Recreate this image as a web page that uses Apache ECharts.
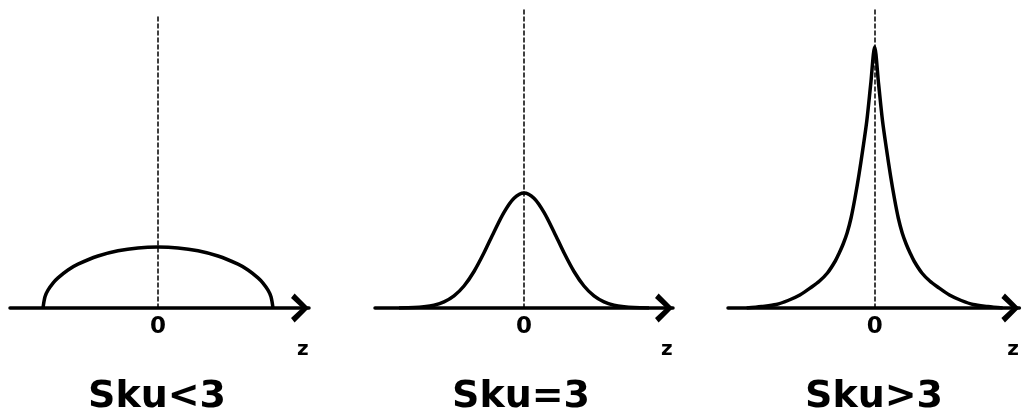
<!DOCTYPE html>
<html>
<head>
<meta charset="utf-8">
<script src="https://cdn.jsdelivr.net/npm/echarts@6/dist/echarts.min.js"></script>
<style>
  html, body { margin: 0; padding: 0; background: #fff; }
  #chart { width: 1022px; height: 416px; }
</style>
</head>
<body>
<div id="chart"></div>
<script>
// panel labels
const panelTitles = ['Sku<3', 'Sku=3', 'Sku>3'];

// platykurtic (flat, elliptic hump)
const zFlat = [-115, -113, -110, -105, -100, -90, -80, -60, -40, -20, 0, 20, 40, 60, 80, 90, 100, 105, 110, 113, 115];
const hFlat = [0, 11.3, 17.8, 24.9, 30.1, 38.0, 43.8, 52.0, 57.2, 60.1, 61, 60.1, 57.2, 52.0, 43.8, 38.0, 30.1, 24.9, 17.8, 11.3, 0];

// mesokurtic (normal)
const zNormal = [-125, -110, -100, -90, -80, -70, -60, -50, -40, -30, -20, -10, 0, 10, 20, 30, 40, 50, 60, 70, 80, 90, 100, 110, 125];
const hNormal = [0, 0.4, 1.2, 2.8, 6.1, 12.1, 22.0, 36.5, 55.2, 76.1, 95.7, 109.8, 115, 109.8, 95.7, 76.1, 55.2, 36.5, 22.0, 12.1, 6.1, 2.8, 1.2, 0.4, 0];

// leptokurtic (sharp peak, heavy tails)
const zPeak = [-130, -115, -100, -88, -76, -64, -56, -48, -40, -36, -32, -28, -24, -20, -16, -12, -8, -4, 0,
    4, 8, 12, 16, 20, 24, 28, 32, 36, 40, 48, 56, 64, 76, 88, 100, 115, 130];
const hPeak = [0, 1.5, 3.5, 7.5, 13, 21, 27, 35, 47, 55, 64, 75, 90, 110, 133, 159, 187, 224, 261,
    224, 187, 159, 133, 110, 90, 75, 64, 55, 47, 35, 27, 21, 13, 7.5, 3.5, 1.5, 0];

const zipPts = (xs, ys) => xs.map((x, i) => [x, ys[i]]);

const chart = echarts.init(document.getElementById('chart'));

// pixel layout of the three small panels
const panels = [
    { left: 10, top: 15, width: 299, min: -148, max: 151, ymax: 293, data: zipPts(zFlat, hFlat) },
    { left: 375, top: 10, width: 298, min: -149, max: 149, ymax: 298, data: zipPts(zNormal, hNormal) },
    { left: 728, top: 10, width: 296, min: -149, max: 147, ymax: 298, data: zipPts(zPeak, hPeak) },
];
const titleX = [157, 521, 874];
const chevron = 'path://M10,0 L20,10 L17,12.5 L10,5 L3,12.5 L0,10 Z';

const option = {
    animation: false,
    title: panelTitles.map((t, i) => ({
        text: t,
        left: titleX[i],
        top: 378,
        padding: 0,
        textAlign: 'center',
        textStyle: { fontFamily: 'DejaVu Sans', fontWeight: 'bold', fontSize: 38, color: '#000' },
    })),
    grid: panels.map((p) => ({ left: p.left, top: p.top, width: p.width, height: 308 - p.top })),
    xAxis: panels.map((p, i) => ({
        type: 'value',
        gridIndex: i,
        min: p.min,
        max: p.max,
        name: 'z',
        nameLocation: 'end',
        nameGap: -12,
        nameTextStyle: {
            fontFamily: 'DejaVu Sans', fontWeight: 'bold', fontSize: 20, color: '#000',
            verticalAlign: 'top', padding: [32, 0, 0, 0],
        },
        axisLine: {
            lineStyle: { color: '#000', width: 3.5 },
            symbol: ['none', chevron],
            symbolSize: [30, 18],
            symbolOffset: [0, -9],
        },
        axisTick: { show: false },
        splitLine: { show: false },
        axisLabel: {
            customValues: [0],
            margin: 8,
            fontFamily: 'DejaVu Sans', fontWeight: 'bold', fontSize: 23, color: '#000',
        },
    })),
    yAxis: panels.map((p, i) => ({
        type: 'value',
        gridIndex: i,
        min: 0,
        max: p.ymax,
        axisLine: { show: true, lineStyle: { color: '#000', width: 1.5, type: [4, 3] } },
        axisTick: { show: false },
        axisLabel: { show: false },
        splitLine: { show: false },
    })),
    series: panels.map((p, i) => ({
        type: 'line',
        xAxisIndex: i,
        yAxisIndex: i,
        data: p.data,
        smooth: 0.3,
        showSymbol: false,
        lineStyle: { color: '#000', width: 3.5 },
    })),
};
chart.setOption(option);
</script>
</body>
</html>
